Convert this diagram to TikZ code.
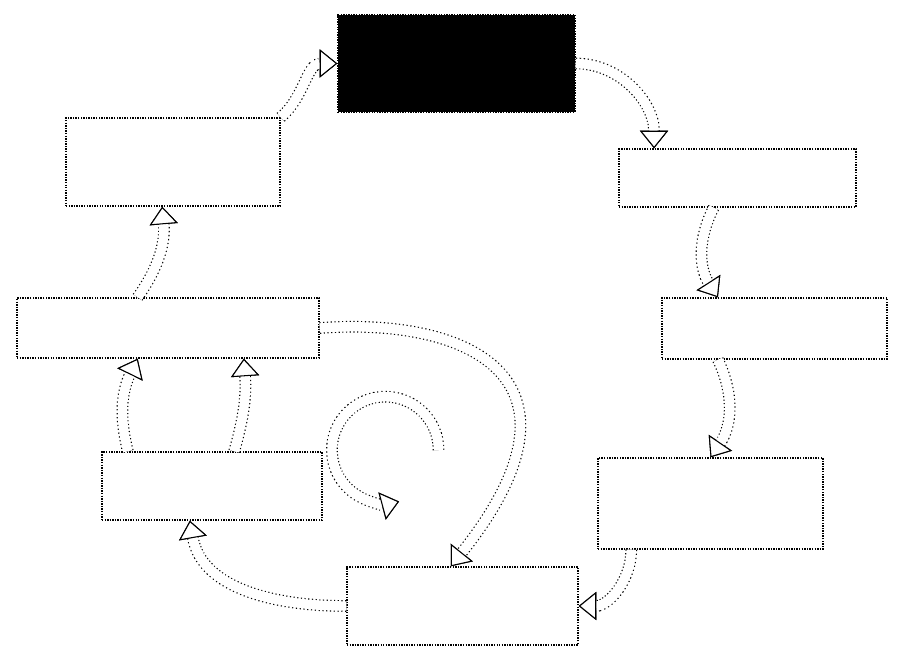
\documentclass[tikz,border=0pt]{standalone}
\usepackage{tikz}
\usetikzlibrary{calc,fit,arrows.meta}
\tikzset{
  box/.style={draw, densely dotted, line width=1.2pt, inner sep=0pt},
  darkbox/.style={box, fill=black},
  flowtip/.style={-{Triangle[length=15pt, width=24pt, line width=0.9pt, color=black, fill=white]}},
  flow/.style={draw=white, line width=8pt, flowtip,
    preaction={draw=black, line width=10pt, dash pattern=on 1pt off 2.2pt, flowtip}},
  }

\begin{document}
\begin{tikzpicture}[x=0.03cm, y=0.03cm]
  \useasboundingbox (0,0) rectangle (907,669);

  % boxes, clockwise from the top
  \node[darkbox, fit={(338,654) (575,557)}] (top) {};
  \node[box, fit={(619,520) (856,462)}] (rt) {};
  \node[box, fit={(662,371) (887,310)}] (rm) {};
  \node[box, fit={(598,211) (823,120)}] (rl) {};
  \node[box, fit={(347,102) (578,24)}]  (bot) {};
  \node[box, fit={(102,217) (322,149)}] (ll) {};
  \node[box, fit={(17,371) (319,311)}]  (lm) {};
  \node[box, fit={(66,551) (280,463)}]  (lt) {};
  \node[circle, minimum size=3.2cm, inner sep=0pt] (loop) at (385,219) {};

  % outer cycle
  \draw[flow] (lt.north east) to[out=40,in=180] (top.west);
  \draw[flow] (top.east) to[out=0,in=90] ($(rt.north west)!0.15!(rt.north east)$);
  \draw[flow] ($(rt.south west)!0.4!(rt.south east)$) to[bend right=30] ($(rm.north west)!0.25!(rm.north east)$);
  \draw[flow] ($(rm.south west)!0.25!(rm.south east)$) to[bend left=30] ($(rl.north west)!0.5!(rl.north east)$);
  \draw[flow] ($(rl.south west)!0.15!(rl.south east)$) to[out=-90,in=0] (bot.east);
  \draw[flow] (bot.west) to[out=180,in=-80] ($(ll.south west)!0.4!(ll.south east)$);
  \draw[flow] ($(ll.north west)!0.12!(ll.north east)$) to[bend left=20] ($(lm.south west)!0.4!(lm.south east)$);
  \draw[flow] ($(ll.north west)!0.6!(ll.north east)$) to[bend right=10] ($(lm.south west)!0.75!(lm.south east)$);
  \draw[flow] ($(lm.north west)!0.4!(lm.north east)$) to[bend right=20] ($(lt.south west)!0.45!(lt.south east)$);

  % centre
  \draw[flow] (loop.east) arc[start angle=0, end angle=285, radius=1.6cm];
  \draw[flow] (lm.east) .. controls (470,352) and (600,290) .. ($(bot.north west)!0.45!(bot.north east)$);
\end{tikzpicture}
\end{document}
